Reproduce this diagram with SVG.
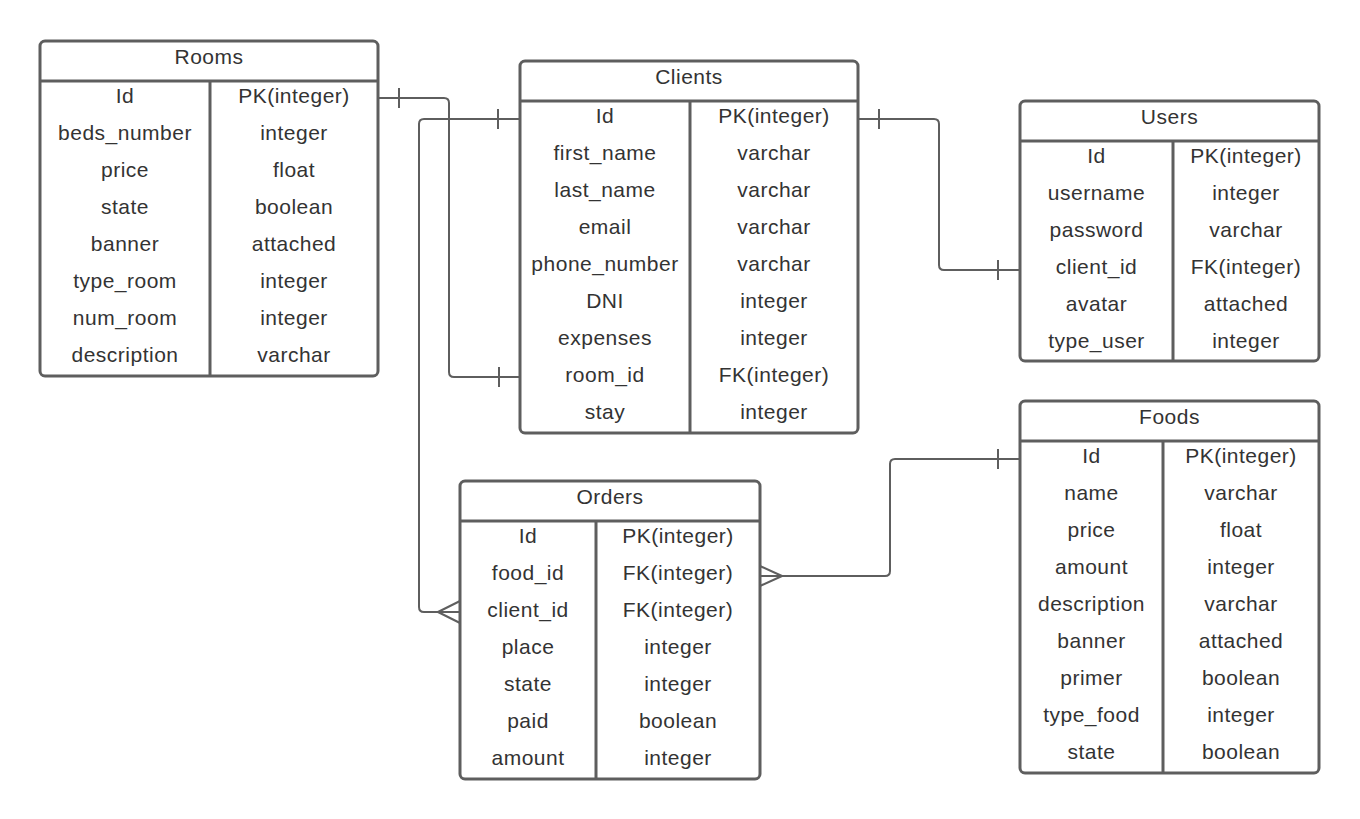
<svg xmlns="http://www.w3.org/2000/svg" width="1360" height="819" viewBox="0 0 1360 819">
<style>
.box{fill:#fff;stroke:#5e5e5e;stroke-width:3}
.ln{stroke:#5e5e5e;stroke-width:3;fill:none}
.cn{stroke:#5e5e5e;stroke-width:2;fill:none;stroke-linejoin:round}
text{font-family:"Liberation Sans",Arial,sans-serif;font-size:21px;letter-spacing:0.5px;fill:#333;text-anchor:middle}
</style>
<rect width="1360" height="819" fill="#fff"/>
<g id="connectors">
<path class="cn" d="M378,98 H444 Q449,98 449,103 V372 Q449,377 454,377 H520"/>
<path class="cn" d="M399,88 V108 M499,367 V387"/>
<path class="cn" d="M520,119 H424 Q419,119 419,124 V607 Q419,612 424,612 H460"/>
<path class="cn" d="M498,109 V129 M460,601 L438,612 L460,623"/>
<path class="cn" d="M858,119 H934 Q939,119 939,124 V265 Q939,270 944,270 H1020"/>
<path class="cn" d="M879,109 V129 M998,260 V280"/>
<path class="cn" d="M1020,459 H895 Q890,459 890,464 V571 Q890,576 885,576 H760"/>
<path class="cn" d="M998,449 V469 M760,566 L782,576 L760,586"/>
</g>
<g id="rooms">
<rect class="box" x="40" y="41" width="338" height="335" rx="5"/>
<path class="ln" d="M40,81 H378 M210,81 V376"/>
<text x="209" y="64">Rooms</text>
<text x="125" y="103">Id</text><text x="294" y="103">PK(integer)</text>
<text x="125" y="140">beds_number</text><text x="294" y="140">integer</text>
<text x="125" y="177">price</text><text x="294" y="177">float</text>
<text x="125" y="214">state</text><text x="294" y="214">boolean</text>
<text x="125" y="251">banner</text><text x="294" y="251">attached</text>
<text x="125" y="288">type_room</text><text x="294" y="288">integer</text>
<text x="125" y="325">num_room</text><text x="294" y="325">integer</text>
<text x="125" y="362">description</text><text x="294" y="362">varchar</text>
</g>
<g id="clients">
<rect class="box" x="520" y="61" width="338" height="372" rx="5"/>
<path class="ln" d="M520,101 H858 M690,101 V433"/>
<text x="689" y="84">Clients</text>
<text x="605" y="123">Id</text><text x="774" y="123">PK(integer)</text>
<text x="605" y="160">first_name</text><text x="774" y="160">varchar</text>
<text x="605" y="197">last_name</text><text x="774" y="197">varchar</text>
<text x="605" y="234">email</text><text x="774" y="234">varchar</text>
<text x="605" y="271">phone_number</text><text x="774" y="271">varchar</text>
<text x="605" y="308">DNI</text><text x="774" y="308">integer</text>
<text x="605" y="345">expenses</text><text x="774" y="345">integer</text>
<text x="605" y="382">room_id</text><text x="774" y="382">FK(integer)</text>
<text x="605" y="419">stay</text><text x="774" y="419">integer</text>
</g>
<g id="users">
<rect class="box" x="1020" y="101" width="299" height="260" rx="5"/>
<path class="ln" d="M1020,141 H1319 M1173,141 V361"/>
<text x="1169.5" y="124">Users</text>
<text x="1096.5" y="163">Id</text><text x="1246" y="163">PK(integer)</text>
<text x="1096.5" y="200">username</text><text x="1246" y="200">integer</text>
<text x="1096.5" y="237">password</text><text x="1246" y="237">varchar</text>
<text x="1096.5" y="274">client_id</text><text x="1246" y="274">FK(integer)</text>
<text x="1096.5" y="311">avatar</text><text x="1246" y="311">attached</text>
<text x="1096.5" y="348">type_user</text><text x="1246" y="348">integer</text>
</g>
<g id="foods">
<rect class="box" x="1020" y="401" width="299" height="372" rx="5"/>
<path class="ln" d="M1020,441 H1319 M1163,441 V773"/>
<text x="1169.5" y="424">Foods</text>
<text x="1091.5" y="463">Id</text><text x="1241" y="463">PK(integer)</text>
<text x="1091.5" y="500">name</text><text x="1241" y="500">varchar</text>
<text x="1091.5" y="537">price</text><text x="1241" y="537">float</text>
<text x="1091.5" y="574">amount</text><text x="1241" y="574">integer</text>
<text x="1091.5" y="611">description</text><text x="1241" y="611">varchar</text>
<text x="1091.5" y="648">banner</text><text x="1241" y="648">attached</text>
<text x="1091.5" y="685">primer</text><text x="1241" y="685">boolean</text>
<text x="1091.5" y="722">type_food</text><text x="1241" y="722">integer</text>
<text x="1091.5" y="759">state</text><text x="1241" y="759">boolean</text>
</g>
<g id="orders">
<rect class="box" x="460" y="481" width="300" height="298" rx="5"/>
<path class="ln" d="M460,521 H760 M596,521 V779"/>
<text x="610" y="504">Orders</text>
<text x="528" y="543">Id</text><text x="678" y="543">PK(integer)</text>
<text x="528" y="580">food_id</text><text x="678" y="580">FK(integer)</text>
<text x="528" y="617">client_id</text><text x="678" y="617">FK(integer)</text>
<text x="528" y="654">place</text><text x="678" y="654">integer</text>
<text x="528" y="691">state</text><text x="678" y="691">integer</text>
<text x="528" y="728">paid</text><text x="678" y="728">boolean</text>
<text x="528" y="765">amount</text><text x="678" y="765">integer</text>
</g>
</svg>
